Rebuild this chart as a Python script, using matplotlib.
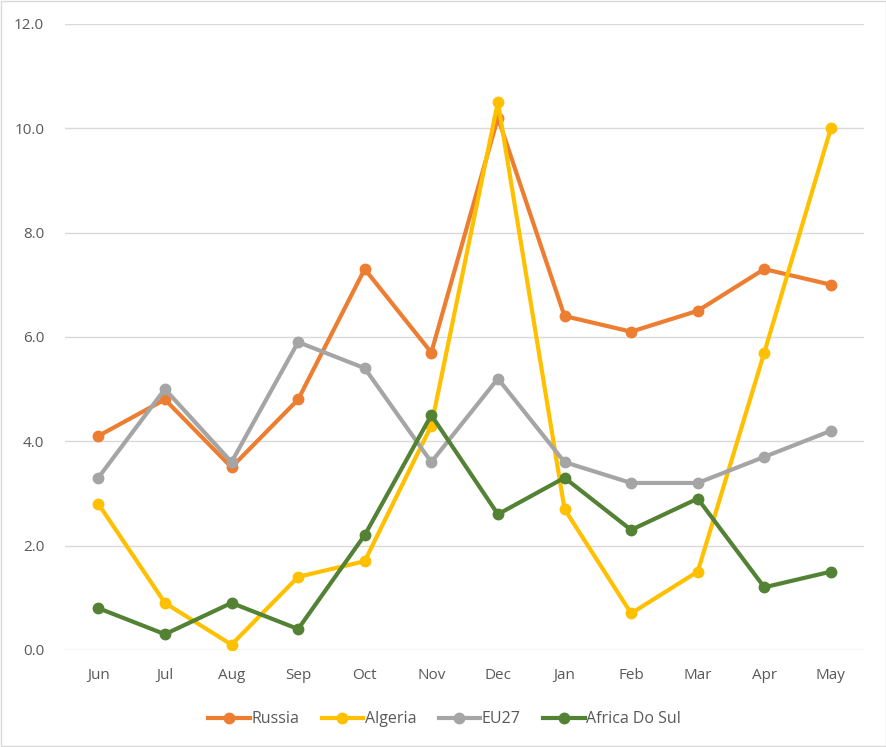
import matplotlib
matplotlib.use("Agg")
import matplotlib.pyplot as plt
import numpy as np

months = ["Jun", "Jul", "Aug", "Sep", "Oct", "Nov", "Dec", "Jan", "Feb", "Mar", "Apr", "May"]
russia = [4.1, 4.8, 3.5, 4.8, 7.3, 5.7, 10.2, 6.4, 6.1, 6.5, 7.3, 7.0]
algeria = [2.8, 0.9, 0.1, 1.4, 1.7, 4.3, 10.5, 2.7, 0.7, 1.5, 5.7, 10.0]
eu27 = [3.3, 5.0, 3.6, 5.9, 5.4, 3.6, 5.2, 3.6, 3.2, 3.2, 3.7, 4.2]
africa = [0.8, 0.3, 0.9, 0.4, 2.2, 4.5, 2.6, 3.3, 2.3, 2.9, 1.2, 1.5]

plt.rcParams['font.family'] = ['Open Sans', 'DejaVu Sans']

fig = plt.figure(figsize=(8.87, 7.47), dpi=100)
ax = fig.add_axes([0.0733, 0.130, 0.901, 0.838])

x = np.arange(len(months))
series = [("Russia", russia, "#ED7D31"),
          ("Algeria", algeria, "#FFC000"),
          ("EU27", eu27, "#A5A5A5"),
          ("Africa Do Sul", africa, "#548235")]
for name, vals, col in series:
    ax.plot(x, vals, color=col, lw=3, marker="o", ms=7.5, label=name, zorder=3)

ax.set_xlim(-0.5, len(months) - 0.5)
ax.set_ylim(0, 12)
ax.set_yticks(np.arange(0, 12.1, 2))
ax.set_yticklabels([f"{v:.1f}" for v in np.arange(0, 12.1, 2)])
ax.set_xticks(x)
ax.set_xticklabels(months)
ax.grid(axis="y", color="#D9D9D9", lw=1)
ax.set_axisbelow(True)
for s in ax.spines.values():
    s.set_visible(False)
ax.tick_params(length=0, colors="#595959", labelsize=11, pad=13)
ax.tick_params(axis="y", pad=15)

ax.legend(loc="upper center", bbox_to_anchor=(0.475, -0.075), ncol=4, frameon=False,
          fontsize=11.5, labelcolor="#595959", handlelength=2.6, handletextpad=0.1,
          columnspacing=1.4)

fig.patches.append(plt.Rectangle((0.001, 0.001), 0.998, 0.998, transform=fig.transFigure,
                                 fill=False, edgecolor="#D9D9D9", lw=1))
fig.savefig("out.png", dpi=100)
